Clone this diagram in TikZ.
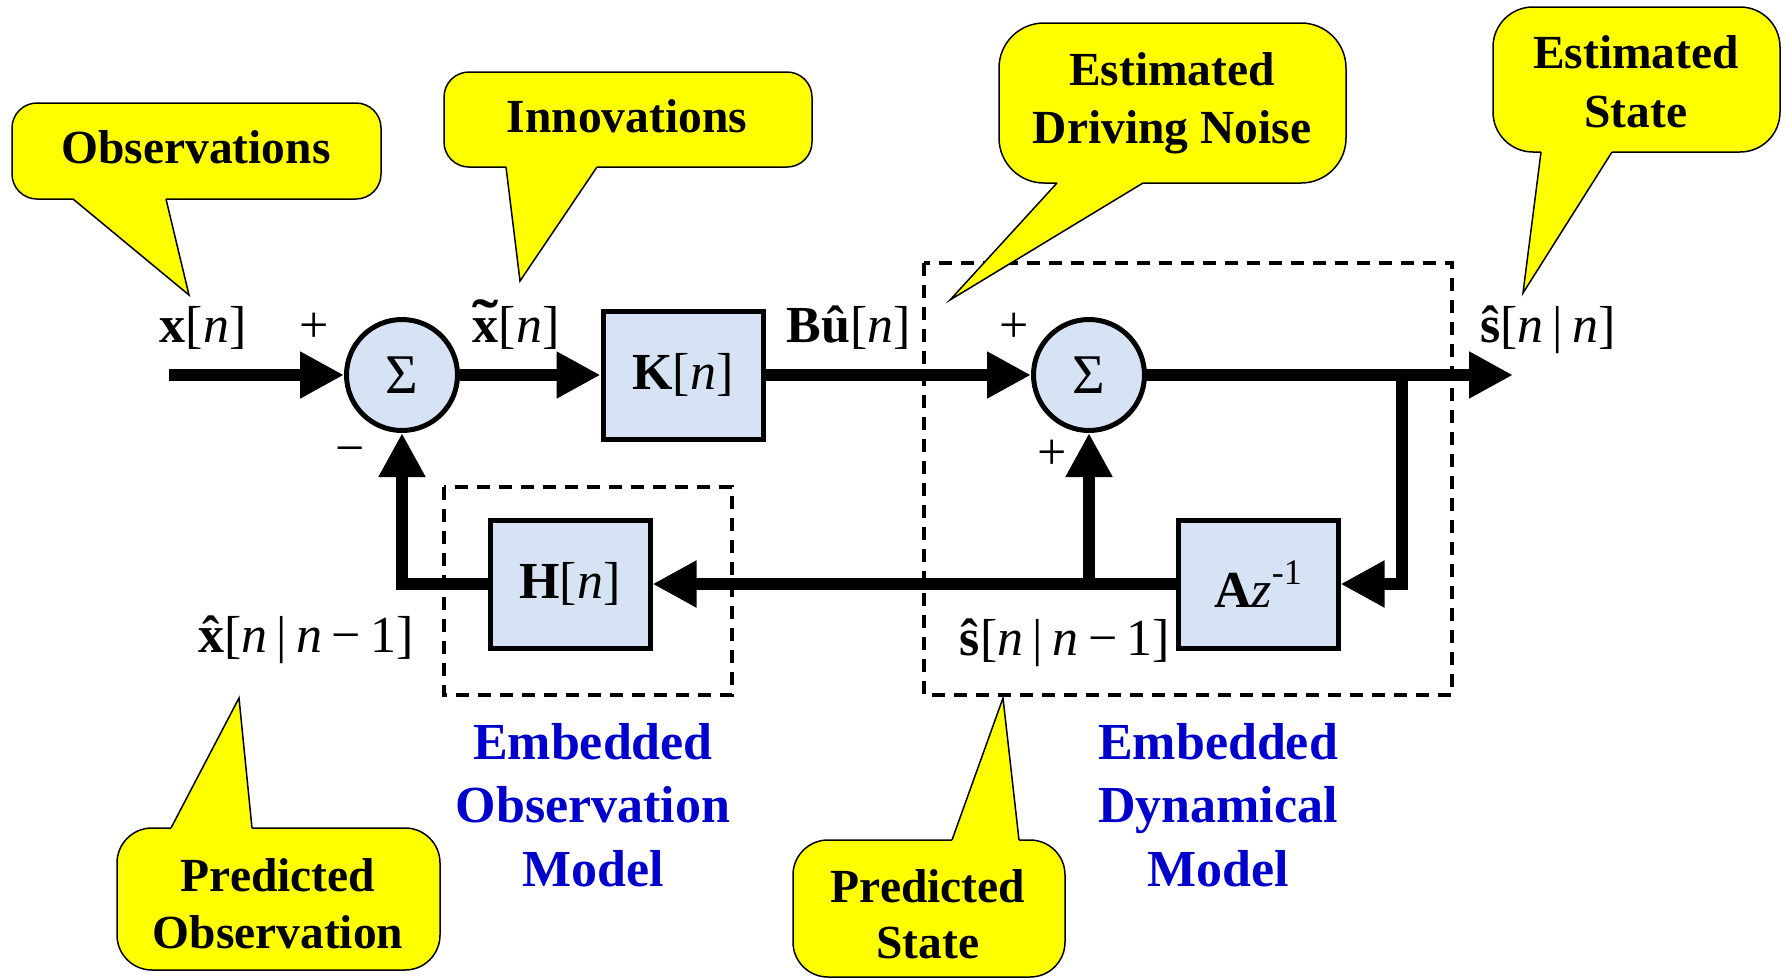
\documentclass[tikz,border=0pt]{standalone}
\usepackage{fontspec}
\setmainfont{Liberation Serif}
\usetikzlibrary{arrows.meta}
\definecolor{boxfill}{RGB}{214,227,245}
\definecolor{modelblue}{RGB}{0,0,204}
\definecolor{callyellow}{RGB}{255,255,0}
\newcommand{\lblfont}{\fontsize{52}{60}\selectfont}
\newcommand{\callfont}{\fontsize{47.5}{57}\selectfont\bfseries}
\newcommand{\modfont}{\fontsize{52}{64}\selectfont\bfseries}
\newcommand{\vn}{\textit{n}}
\newcommand{\gp}{\hspace{0.18em}}
\newcommand{\topacc}[2]{\leavevmode\hbox{\ooalign{#2\cr\hidewidth#1\hidewidth\cr}}}
\newcommand{\hatx}{\topacc{\textbf{ˆ}}{\textbf{x}}}
\newcommand{\tilx}{\topacc{\raisebox{0.04em}{\scalebox{1.5}[1.1]{\textbf{˜}}}}{\textbf{x}}}
\newcommand{\calltail}[6]{%
  \fill[callyellow] (#1,#6) -- (#1,#3) -- (#4,#5) -- (#2,#3) -- (#2,#6) -- cycle;
  \draw[callside] (#1,#3) -- (#4,#5) -- (#2,#3);}
\begin{document}
\begin{tikzpicture}[x=1pt,y=-1pt,
  sumnode/.style={circle, draw, line width=5pt, fill=boxfill, minimum size=111pt, inner sep=0pt, font=\fontsize{56}{60}\selectfont},
  blocknode/.style={rectangle, draw, line width=5pt, fill=boxfill, minimum width=160pt, minimum height=128pt, inner sep=0pt, font=\lblfont},
  sig/.style={line width=12pt},
  sigarrow/.style={sig, -{Triangle[length=44pt,width=44pt]}},
  dashbox/.style={line width=3.5pt, dash pattern=on 13pt off 9pt},
  callbox/.style={fill=callyellow, draw=black, line width=1.5pt},
  callside/.style={draw=black, line width=1.5pt, line join=miter},
  lbl/.style={font=\lblfont, inner sep=0pt, anchor=base},
  sgn/.style={font=\lblfont, inner sep=0pt},
  calltext/.style={font=\callfont, inner sep=0pt, anchor=base},
  modtext/.style={font=\modfont, text=modelblue, inner sep=0pt, anchor=base}]
\useasboundingbox (0,0) rectangle (1786,978);

% dashed model boxes
\draw[dashbox] (444,487) rectangle (732,695);
\draw[dashbox] (924,263) rectangle (1452,695);

% blocks
\node[sumnode] (S1) at (402,375) {\raisebox{-0.06em}{Σ}};
\node[blocknode] (K) at (683,375) {\textbf{K}[\vn]};
\node[sumnode] (S2) at (1089,375) {\raisebox{-0.06em}{Σ}};
\node[blocknode] (H) at (570,584) {\textbf{H}[\vn]};
\node[blocknode] (Az) at (1258,584) {\textbf{A}\textit{z}\raisebox{0.45em}{\fontsize{36}{40}\selectfont -1}};

\coordinate (in) at (169,375);
\coordinate (out) at (1513,375);
\coordinate (B) at (1402,375);
\coordinate (J) at (1089,584);

% signal lines
\draw[sigarrow] (in) -- (S1.west);
\draw[sigarrow] (S1.east) -- (K.west);
\draw[sigarrow] (K.east) -- (S2.west);
\draw[sigarrow] (S2.east) -- (out);
\draw[sigarrow] (B) |- (Az.east);
\draw[sigarrow] (Az.west) -- (H.east);
\draw[sigarrow] (J) -- (S2.south);
\draw[sigarrow] (H.west) -| (S1.south);

% signal labels
\node[lbl] (lx) at (203,342) {\textbf{x}[\vn]};
\node[lbl] (lxt) at (516,342) {\tilx[\vn]};
\node[lbl] (lbu) at (849,342) {\textbf{Bû}[\vn]};
\node[lbl] (lsn) at (1548,342) {\textbf{ŝ}[\vn\gp|\gp\vn]};
\node[lbl] (lxp) at (306,652) {\hatx[\vn\gp|\gp\vn\gp−\gp1]};
\node[lbl] (lsp) at (1065,655) {\textbf{ŝ}[\vn\gp|\gp\vn\gp−\gp1]};
\node[sgn] (p1) at (314,328) {+};
\node[sgn] (m1) at (350,456) {−};
\node[sgn] (p2) at (1014,328) {+};
\node[sgn] (p3) at (1052,455) {+};

% model labels
\node[modtext] (eo1) at (593,759) {Embedded};
\node[modtext] (eo2) at (593,822) {Observation};
\node[modtext] (eo3) at (593,886) {Model};
\node[modtext] (ed1) at (1218,759) {Embedded};
\node[modtext] (ed2) at (1218,822) {Dynamical};
\node[modtext] (ed3) at (1218,886) {Model};

% callouts
\path[callbox, rounded corners=25pt] (12,103) rectangle (381,199);
\calltail{73}{166}{199}{189}{295}{194}
\node[calltext] (cobs) at (196,163) {Observations};

\path[callbox, rounded corners=25pt] (444,72) rectangle (812,167);
\calltail{506}{597}{167}{520}{281}{162}
\node[calltext] (cinn) at (627,132) {Innovations};

\path[callbox, rounded corners=45pt] (999,23) rectangle (1346,183);
\calltail{1057}{1143}{183}{950}{300}{178}
\node[calltext] (cedn1) at (1172,85) {Estimated};
\node[calltext] (cedn2) at (1172,143) {Driving Noise};

\path[callbox, rounded corners=40pt] (1493,7) rectangle (1780,152);
\calltail{1541}{1612}{152}{1523}{293}{147}
\node[calltext] (ces1) at (1636,68) {Estimated};
\node[calltext] (ces2) at (1636,127) {State};

\path[callbox, rounded corners=35pt] (117,828) rectangle (440,970);
\calltail{171}{252}{828}{239}{698}{833}
\node[calltext] (cpo1) at (278,891) {Predicted};
\node[calltext] (cpo2) at (278,948) {Observation};

\path[callbox, rounded corners=35pt] (793,840) rectangle (1065,977);
\calltail{952}{1019}{840}{1003}{698}{845}
\node[calltext] (cps1) at (928,902) {Predicted};
\node[calltext] (cps2) at (928,958) {State};
\end{tikzpicture}
\end{document}
